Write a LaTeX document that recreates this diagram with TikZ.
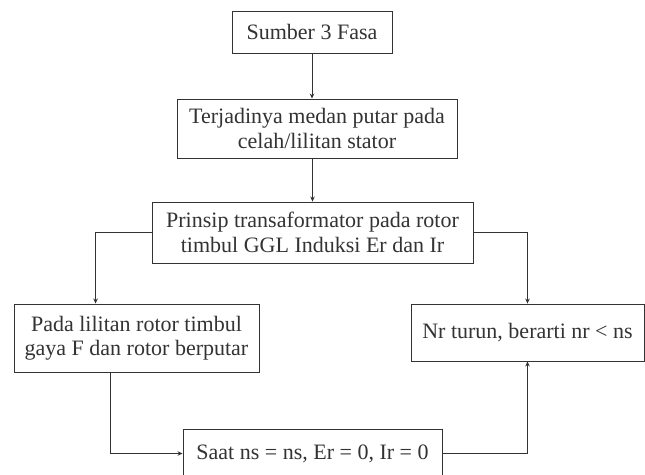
\documentclass[tikz,border=0pt]{standalone}
\usepackage{fontspec}
\setmainfont{Liberation Serif}
\usetikzlibrary{arrows.meta}
\definecolor{ink}{HTML}{333333}
\tikzset{
  box/.style={draw=ink, line width=0.9bp, inner sep=0pt, align=center, text=ink,
    font=\fontsize{22bp}{24.5bp}\selectfont},
  conn/.style={draw=ink, line width=0.9bp, -{Stealth[length=5bp,width=4.5bp]}},
}
\begin{document}
\begin{tikzpicture}[x=1bp,y=-1bp]
\useasboundingbox[fill=white] (0,0) rectangle (645,475);
\node[box, minimum width=160bp, minimum height=42bp] (b1) at (312,32) {Sumber 3 Fasa};
\node[box, minimum width=280bp, minimum height=59bp] (b2) at (317,128.5) {Terjadinya medan putar pada\\celah/lilitan stator};
\node[box, minimum width=321bp, minimum height=61bp] (b3) at (312.5,232.5) {Prinsip transaformator pada rotor\\timbul GGL Induksi Er dan Ir};
\node[box, minimum width=245bp, minimum height=68bp] (b4) at (136.5,338) {Pada lilitan rotor timbul\\gaya F dan rotor berputar};
\node[box, minimum width=233bp, minimum height=57bp] (b5) at (527.5,332.5) {Nr turun, berarti nr < ns};
\node[box, minimum width=259bp, minimum height=49bp] (b6) at (312.5,453.5) {Saat ns = ns, Er = 0, Ir = 0};
\draw[conn] (b1.south) -- (b1.south |- b2.north);
\draw[conn] (b2.south -| b3.north) -- (b3.north);
\draw[conn] (b3.west) -| ([xshift=82bp]b4.north west);
\draw[conn] (b3.east) -| (b5.north);
\draw[conn] ([xshift=97bp]b4.south west) |- (b6.west);
\draw[conn] (b6.east) -| (b5.south);
\end{tikzpicture}
\end{document}
